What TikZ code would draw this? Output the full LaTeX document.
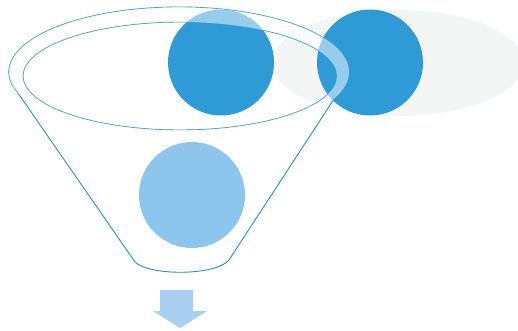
\documentclass[tikz,border=0pt]{standalone}
\usepackage{xcolor}
\usepackage{tikz}
\usetikzlibrary{
  arrows.meta,
  shapes,
  shapes.geometric,
  positioning,
  calc,
  backgrounds
}
\definecolor{fnLine}{HTML}{2A8FC4}
\definecolor{fnBall}{HTML}{2E9BD6}
\definecolor{fnSoft}{HTML}{8DC6EC}
\definecolor{fnArrow}{HTML}{A9D0F0}
\definecolor{fnShade}{HTML}{F4F6F6}
\tikzset{
  ball/.style={circle, draw=none, fill=fnBall, minimum size=106pt, inner sep=0pt},
  softball/.style={ball, fill=fnSoft},
  funnelline/.style={draw=fnLine, line width=0.9pt},
  rimband/.style={fill=white, fill opacity=0.5, even odd rule},
  shadowblob/.style={fill=fnShade, draw=none},
  outarrow/.style={fill=fnArrow, draw=none}
}

\begin{document}
\begin{tikzpicture}[x=1pt, y=-1pt]
  \useasboundingbox (0,0) rectangle (518,330);
  % shadow behind the outside ball
  \fill[shadowblob] (398,63) ellipse [x radius=126pt, y radius=53pt];
  % funnel body and rim
  \coordinate (rimL) at (12,84.4);
  \draw[funnelline] (rimL) arc [start angle=191, end angle=-23.6, x radius=170pt, y radius=65pt]
    -- (229,260) .. controls (215,276) and (150,276) .. (135,262) -- cycle;
  \draw[funnelline] (180,76) ellipse [x radius=157pt, y radius=54pt];
  % balls
  \node[ball] (inball) at (221,62.5) {};
  \node[ball] (outball) at (370,62.5) {};
  \node[softball] (lowball) at (192,195) {};
  % rim band over the balls
  \fill[rimband] (179,72) ellipse [x radius=170pt, y radius=65pt]
    (180,76) ellipse [x radius=157pt, y radius=54pt];
  % output arrow
  \fill[outarrow] (160,290) -- (193,290) -- (193,311) -- (207,311) -- (180,328)
    -- (153,311) -- (160,311) -- cycle;
\end{tikzpicture}
\end{document}
